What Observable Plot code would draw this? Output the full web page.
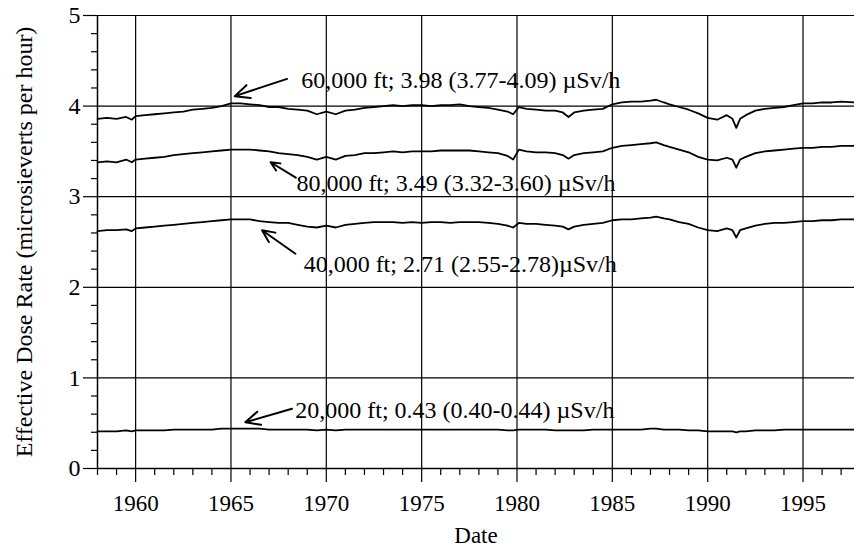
<!DOCTYPE html>
<html>
<head>
<meta charset="utf-8">
<script src="https://cdn.jsdelivr.net/npm/d3@7"></script>
<script src="https://cdn.jsdelivr.net/npm/@observablehq/plot@0.6"></script>
<style>
  html, body { margin: 0; padding: 0; background: #fff; }
</style>
</head>
<body>
<div id="chart"></div>
<script>
// ---- data ----
const years = [1958.0,1958.5,1959.0,1959.5,1959.8,1960.0,1960.5,1961.0,1961.5,1962.0,
  1962.5,1963.0,1963.5,1964.0,1964.5,1965.0,1965.5,1966.0,1966.5,1967.0,
  1967.5,1968.0,1968.5,1969.0,1969.5,1970.0,1970.5,1971.0,1971.5,1972.0,
  1972.5,1973.0,1973.5,1974.0,1974.5,1975.0,1975.5,1976.0,1976.5,1977.0,
  1977.5,1978.0,1978.5,1979.0,1979.5,1979.8,1980.1,1980.5,1981.0,1981.5,
  1982.0,1982.4,1982.7,1983.0,1983.5,1984.0,1984.5,1985.0,1985.5,1986.0,
  1986.5,1987.0,1987.3,1987.7,1988.0,1988.5,1989.0,1989.5,1990.0,1990.5,
  1991.0,1991.3,1991.5,1991.7,1992.0,1992.5,1993.0,1993.5,1994.0,1994.5,
  1995.0,1995.5,1996.0,1996.5,1997.0,1997.7];

const dose60k = [3.86,3.87,3.86,3.88,3.85,3.89,3.90,3.91,3.92,3.93,
  3.94,3.96,3.97,3.98,4.00,4.03,4.03,4.02,4.01,3.99,
  3.99,3.97,3.96,3.95,3.91,3.94,3.91,3.95,3.96,3.98,
  3.99,4.00,4.01,4.00,4.01,4.01,4.00,4.01,4.01,4.02,
  4.00,3.99,3.98,3.96,3.94,3.91,3.99,3.97,3.96,3.95,
  3.95,3.93,3.88,3.93,3.95,3.96,3.97,4.02,4.04,4.05,
  4.05,4.06,4.07,4.04,4.02,3.99,3.96,3.92,3.87,3.85,
  3.90,3.86,3.76,3.86,3.90,3.95,3.97,3.98,3.99,4.01,
  4.03,4.03,4.04,4.04,4.05,4.04];

const dose80k = [3.38,3.39,3.38,3.41,3.38,3.41,3.42,3.43,3.44,3.46,
  3.47,3.48,3.49,3.50,3.51,3.52,3.52,3.52,3.51,3.50,
  3.48,3.47,3.46,3.44,3.41,3.44,3.41,3.45,3.46,3.48,
  3.48,3.49,3.50,3.49,3.50,3.50,3.50,3.51,3.51,3.51,
  3.51,3.50,3.49,3.48,3.45,3.41,3.52,3.50,3.49,3.49,
  3.48,3.46,3.42,3.46,3.48,3.49,3.50,3.54,3.56,3.57,
  3.58,3.59,3.60,3.57,3.55,3.52,3.49,3.44,3.41,3.40,
  3.43,3.41,3.32,3.41,3.44,3.48,3.50,3.51,3.52,3.53,
  3.54,3.54,3.55,3.55,3.56,3.56];

const dose40k = [2.62,2.63,2.63,2.64,2.62,2.65,2.66,2.67,2.68,2.69,
  2.70,2.71,2.72,2.73,2.74,2.75,2.75,2.75,2.73,2.72,
  2.71,2.71,2.69,2.67,2.66,2.68,2.66,2.69,2.70,2.71,
  2.72,2.72,2.72,2.71,2.72,2.71,2.72,2.72,2.71,2.72,
  2.72,2.72,2.71,2.70,2.68,2.66,2.71,2.70,2.70,2.69,
  2.68,2.67,2.64,2.67,2.69,2.70,2.71,2.74,2.75,2.75,
  2.76,2.77,2.78,2.76,2.75,2.72,2.70,2.66,2.63,2.62,
  2.65,2.63,2.55,2.63,2.65,2.68,2.70,2.71,2.71,2.72,
  2.73,2.73,2.74,2.74,2.75,2.75];

const dose20k = [0.41,0.41,0.41,0.42,0.41,0.42,0.42,0.42,0.42,0.43,
  0.43,0.43,0.43,0.43,0.44,0.44,0.44,0.44,0.44,0.43,
  0.43,0.43,0.43,0.43,0.42,0.43,0.42,0.43,0.43,0.43,
  0.43,0.43,0.43,0.43,0.43,0.43,0.43,0.43,0.43,0.43,
  0.43,0.43,0.43,0.43,0.42,0.42,0.43,0.43,0.43,0.43,
  0.42,0.42,0.42,0.42,0.42,0.43,0.43,0.43,0.43,0.43,
  0.43,0.44,0.44,0.43,0.43,0.43,0.42,0.42,0.41,0.41,
  0.41,0.41,0.40,0.41,0.41,0.42,0.42,0.42,0.43,0.43,
  0.43,0.43,0.43,0.43,0.43,0.43];

const seriesNames = ["60,000 ft", "80,000 ft", "40,000 ft", "20,000 ft"];

const labelTexts = [
  "60,000 ft; 3.98 (3.77-4.09) \u00B5Sv/h",
  "80,000 ft; 3.49 (3.32-3.60) \u00B5Sv/h",
  "40,000 ft; 2.71 (2.55-2.78)\u00B5Sv/h",
  "20,000 ft; 0.43 (0.40-0.44) \u00B5Sv/h"
];
const labelX = [1968.68, 1968.43, 1968.81, 1968.37];
const labelY = [4.29, 3.15, 2.25, 0.64];

const arrowTailX = [1967.94, 1968.40, 1968.38, 1968.20];
const arrowTailY = [4.30, 3.21, 2.37, 0.66];
const arrowHeadX = [1965.20, 1967.08, 1966.63, 1965.75];
const arrowHeadY = [4.11, 3.38, 2.63, 0.51];

const xMajorTicks = [1960, 1965, 1970, 1975, 1980, 1985, 1990, 1995];
const xMinorTicks = [1958,1959,1961,1962,1963,1964,1966,1967,1968,1969,1971,1972,1973,1974,
  1976,1977,1978,1979,1981,1982,1983,1984,1986,1987,1988,1989,1991,1992,1993,1994,1996,1997];
const yMajorTicks = [0, 1, 2, 3, 4, 5];
const yMinorTicks = [0.2,0.4,0.6,0.8,1.2,1.4,1.6,1.8,2.2,2.4,2.6,2.8,3.2,3.4,3.6,3.8,4.2,4.4,4.6,4.8];

const xTitle = "Date";
const yTitle = "Effective Dose Rate (microsieverts per hour)";

// ---- build tables ----
const allSeries = [dose60k, dose80k, dose40k, dose20k];
const rows = [];
allSeries.forEach((vals, si) => {
  vals.forEach((v, i) => rows.push({series: seriesNames[si], year: years[i], value: v}));
});
const labels = labelTexts.map((t, i) => ({text: t, x: labelX[i], y: labelY[i]}));
const arrows = arrowTailX.map((_, i) => ({x1: arrowTailX[i], y1: arrowTailY[i], x2: arrowHeadX[i], y2: arrowHeadY[i]}));

const serif = "'Liberation Serif', 'Times New Roman', Times, serif";

const chart = Plot.plot({
  width: 854,
  height: 554,
  marginLeft: 97,
  marginRight: 0,
  marginTop: 15,
  marginBottom: 86,
  x: {domain: [1958, 1997.7]},
  y: {domain: [0, 5]},
  style: {fontFamily: serif, fontSize: "22px", color: "black", background: "white"},
  marks: [
    Plot.gridX(xMajorTicks, {stroke: "black", strokeOpacity: 1, strokeWidth: 1.2}),
    Plot.gridY([1, 2, 3, 4, 5], {stroke: "black", strokeOpacity: 1, strokeWidth: 1.2}),
    Plot.axisX(xMajorTicks, {tickSize: 14, tickPadding: 12, tickFormat: d => String(d), label: null, fontSize: 23, strokeWidth: 1.2}),
    Plot.axisX(xMinorTicks, {tickSize: 7, tickFormat: () => "", label: null, strokeWidth: 1.2}),
    Plot.axisY(yMajorTicks, {tickSize: 14, tickPadding: 3, tickFormat: d => String(d), label: null, fontSize: 24, strokeWidth: 1.2}),
    Plot.axisY(yMinorTicks, {tickSize: 6, tickFormat: () => "", label: null, strokeWidth: 1.2}),
    Plot.ruleY([0], {strokeWidth: 1.5}),
    Plot.ruleX([1958], {strokeWidth: 1.5}),
    Plot.line(rows, {x: "year", y: "value", z: "series", stroke: "black", strokeWidth: 1.8}),
    Plot.arrow(arrows, {x1: "x1", y1: "y1", x2: "x2", y2: "y2", stroke: "black", strokeWidth: 2, headLength: 12, headAngle: 50}),
    Plot.text(labels, {x: "x", y: "y", text: "text", textAnchor: "start", fontSize: 24, fill: "black"}),
    Plot.text([xTitle], {frameAnchor: "bottom", text: d => d, dy: 74, fontSize: 23, fill: "black"}),
    Plot.text([yTitle], {frameAnchor: "left", textAnchor: "middle", text: d => d, rotate: -90, dx: -73, fontSize: 24, fill: "black"})
  ]
});
document.getElementById("chart").appendChild(chart);
</script>
</body>
</html>
